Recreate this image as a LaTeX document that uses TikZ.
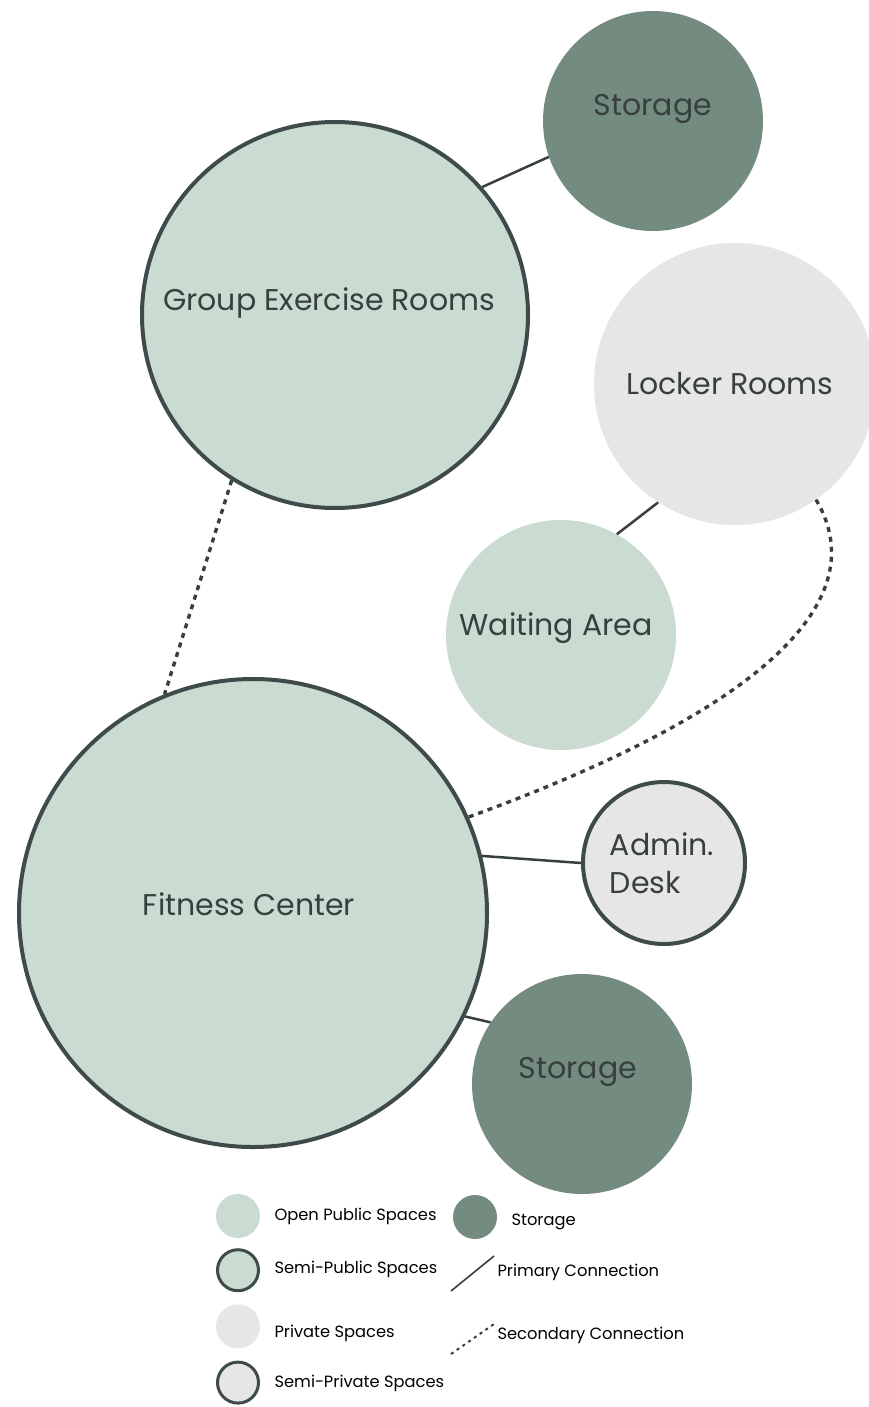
\documentclass[tikz,border=0pt]{standalone}
\usepackage{fontspec}
\setmainfont{Poppins}
\usepackage{xcolor}
\usepackage{tikz}
\usetikzlibrary{positioning}

\definecolor{sage}{HTML}{CADBD2}
\definecolor{moss}{HTML}{748B80}
\definecolor{mist}{HTML}{E7E6E7}
\definecolor{rim}{HTML}{3F4A4B}
\definecolor{ink}{HTML}{37403F}

\begin{document}
\begin{tikzpicture}[
    x=1pt, y=-1pt,
    space/.style={circle, inner sep=0pt},
    openspace/.style={space, fill=sage},
    semipubspace/.style={space, fill=sage, draw=rim, line width=4pt},
    privspace/.style={space, fill=mist},
    semiprivspace/.style={space, fill=mist, draw=rim, line width=4pt},
    storespace/.style={space, fill=moss},
    roomlabel/.style={font=\fontsize{30}{38}\selectfont, text=ink},
    primary/.style={line width=2.5pt, draw=ink},
    secondary/.style={line width=3.4pt, draw=ink, dash pattern=on 5pt off 5pt},
    key/.style={circle, minimum size=44pt, inner sep=0pt},
    keytext/.style={font=\fontsize{16.3}{18}\selectfont, anchor=west, text=black},
]

% Page
\fill[white] (0,0) rectangle (869,1407);
\useasboundingbox (0,0) rectangle (869,1407);

% Spaces
\node[storespace, minimum size=220pt] (storeTop) at (653,121) {};
\node[semipubspace, minimum size=386pt] (group) at (335,315) {};
\node[privspace, minimum size=282pt] (locker) at (735,384) {};
\node[openspace, minimum size=230pt] (waiting) at (561,635) {};
\node[semipubspace, minimum size=468pt] (fitness) at (253,913) {};
\node[semiprivspace, minimum size=162pt] (admin) at (664,863) {};
\node[storespace, minimum size=220pt] (storeLow) at (582,1084) {};

% Labels
\node[roomlabel] (storeTopTxt) at ([yshift=12pt]storeTop.center) {Storage};
\node[roomlabel] (groupTxt) at ([xshift=-6pt, yshift=12pt]group.center) {Group Exercise Rooms};
\node[roomlabel] (lockerTxt) at ([xshift=-5pt]locker.center) {Locker Rooms};
\node[roomlabel] (waitingTxt) at ([xshift=-5pt, yshift=7pt]waiting.center) {Waiting Area};
\node[roomlabel] (fitnessTxt) at ([xshift=-4pt, yshift=9pt]fitness.center) {Fitness Center};
\node[roomlabel, align=left] (adminTxt) at ([xshift=-2pt]admin.center) {Admin.\\Desk};
\node[roomlabel] (storeLowTxt) at ([xshift=-4pt, yshift=12pt]storeLow.center) {Storage};

% Primary connections
\draw[primary] (group.41) -- (storeTop.199);
\draw[primary] (locker.237) -- (waiting.61);
\draw[primary] (fitness.14) -- (admin.180);
\draw[primary] (fitness.-26) -- (storeLow.146);

% Secondary connections
\draw[secondary] (group.238) -- (fitness.112);
\draw[secondary] (locker.-55) .. controls (870,590) and (790,700) .. (fitness.24);

% Legend
\node[key, fill=sage] (kOpen) at (238,1216) {};
\node[key, fill=sage, draw=rim, line width=3pt, minimum size=41pt, below=10pt of kOpen] (kSemiPub) {};
\node[key, fill=mist, below=12pt of kSemiPub] (kPriv) {};
\node[key, fill=mist, draw=rim, line width=3pt, minimum size=41pt, below=12pt of kPriv] (kSemiPriv) {};
\node[key, fill=moss] (kStore) at (475,1217) {};

\node[keytext] (tOpen) at (271,1216) {Open Public Spaces};
\node[keytext] (tSemiPub) at (271,1269) {Semi-Public Spaces};
\node[keytext] (tPriv) at (271,1333) {Private Spaces};
\node[keytext] (tSemiPriv) at (271,1383) {Semi-Private Spaces};
\node[keytext] (tStore) at (508,1222) {Storage};

\coordinate (pA) at (451,1291);
\coordinate (pB) at (494,1256);
\draw[primary, line width=1.6pt] (pA) -- (pB);
\node[keytext] (tPrimary) at (494,1272) {Primary Connection};

\coordinate (sA) at (451,1354);
\coordinate (sB) at (494,1324);
\draw[secondary, line width=2pt, dash pattern=on 3pt off 4pt] (sA) -- (sB);
\node[keytext] (tSecondary) at (494,1335) {Secondary Connection};

\end{tikzpicture}
\end{document}
